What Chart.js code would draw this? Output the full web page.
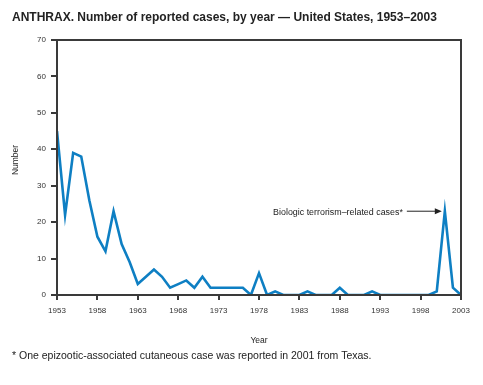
<!DOCTYPE html>
<html>
<head>
<meta charset="utf-8">
<script src="https://cdn.jsdelivr.net/npm/chart.js@4.4.1/dist/chart.umd.min.js"></script>
<style>
  html, body { margin: 0; padding: 0; background: #fff; }
  #wrap { width: 483px; height: 385px; position: relative; }
</style>
</head>
<body>
<div id="wrap"><canvas id="chart" width="483" height="385"></canvas></div>
<script>
// data
const years = [];
for (let y = 1953; y <= 2003; y++) years.push(y);
const cases = [45, 22, 39, 38, 26, 16, 12, 23, 14, 9,
               3, 5, 7, 5, 2, 3, 4, 2, 5, 2,
               2, 2, 2, 2, 0, 6, 0, 1, 0, 0,
               0, 1, 0, 0, 0, 2, 0, 0, 0, 1,
               0, 0, 0, 0, 0, 0, 0, 1, 23, 2,
               0];
const yTicks = [0, 10, 20, 30, 40, 50, 60, 70];
const xTicks = [1953, 1958, 1963, 1968, 1973, 1978, 1983, 1988, 1993, 1998, 2003];

const titleText = 'ANTHRAX. Number of reported cases, by year \u2014 United States, 1953\u20132003';
const noteText = '* One epizootic-associated cutaneous case was reported in 2001 from Texas.';
const annoText = 'Biologic terrorism\u2013related cases*';
const annoYear = 2001;

const FONT = '"Liberation Sans", Arial, Helvetica, sans-serif';
const AXIS = '#3a3a3a';

// texts, box and arrow
const extras = {
  id: 'extras',
  afterDatasetsDraw(chart) {
    const ctx = chart.ctx;
    const a = chart.chartArea;
    const xs = chart.scales.x, ys = chart.scales.y;
    ctx.save();
    // frame on top of the line
    ctx.strokeStyle = AXIS;
    ctx.lineWidth = 2;
    ctx.strokeRect(a.left, a.top, a.right - a.left, a.bottom - a.top);

    // annotation
    const px = xs.getPixelForValue(annoYear) - 3;
    const py = ys.getPixelForValue(cases[years.indexOf(annoYear)]);
    ctx.strokeStyle = '#222';
    ctx.fillStyle = '#222';
    ctx.lineWidth = 1;
    ctx.beginPath();
    ctx.moveTo(px - 35, py);
    ctx.lineTo(px - 6, py);
    ctx.stroke();
    ctx.beginPath();
    ctx.moveTo(px, py);
    ctx.lineTo(px - 7, py - 3);
    ctx.lineTo(px - 7, py + 3);
    ctx.closePath();
    ctx.fill();
    ctx.font = '8.9px ' + FONT;
    ctx.textAlign = 'right';
    ctx.textBaseline = 'middle';
    ctx.fillStyle = '#222';
    ctx.fillText(annoText, px - 39, py + 1);
    ctx.restore();
  },
  afterDraw(chart) {
    const ctx = chart.ctx;
    const a = chart.chartArea;
    ctx.save();
    ctx.fillStyle = '#222';
    ctx.textBaseline = 'alphabetic';
    ctx.textAlign = 'left';
    ctx.font = 'bold 12px ' + FONT;
    ctx.fillText(titleText, 12, 21);

    ctx.font = '10.5px ' + FONT;
    ctx.fillText(noteText, 12, 359);

    ctx.font = '8.5px ' + FONT;
    ctx.textAlign = 'center';
    ctx.fillText('Year', (a.left + a.right) / 2, 343);

    ctx.translate(18, 160);
    ctx.rotate(-Math.PI / 2);
    ctx.fillText('Number', 0, 0);
    ctx.restore();
  }
};

const ctx = document.getElementById('chart').getContext('2d');
new Chart(ctx, {
  type: 'line',
  data: {
    datasets: [{
      label: 'Cases',
      data: years.map((y, i) => ({ x: y, y: cases[i] })),
      borderColor: '#0e7fc3',
      borderWidth: 2.6,
      pointRadius: 0,
      tension: 0,
      fill: false
    }]
  },
  options: {
    responsive: false,
    animation: false,
    layout: { padding: { left: 0, top: 40, right: 22, bottom: 0 } },
    plugins: {
      legend: { display: false },
      tooltip: { enabled: false },
      title: { display: false }
    },
    scales: {
      x: {
        type: 'linear',
        min: 1953,
        max: 2003,
        afterFit: s => { s.height = 90; },
        afterBuildTicks: s => { s.ticks = xTicks.map(v => ({ value: v })); },
        grid: { display: true, drawOnChartArea: false, drawTicks: true, tickLength: 5, color: AXIS, lineWidth: 2 },
        border: { display: true, color: AXIS, width: 2 },
        ticks: {
          color: '#333',
          font: { family: FONT, size: 8 },
          padding: 6,
          maxRotation: 0,
          callback: v => String(v)
        }
      },
      y: {
        min: 0,
        max: 70,
        afterFit: s => { s.width = 57; },
        afterBuildTicks: s => { s.ticks = yTicks.map(v => ({ value: v })); },
        grid: { display: true, drawOnChartArea: false, drawTicks: true, tickLength: 6, color: AXIS, lineWidth: 2 },
        border: { display: true, color: AXIS, width: 2 },
        ticks: {
          color: '#333',
          font: { family: FONT, size: 8 },
          padding: 5
        }
      }
    }
  },
  plugins: [extras]
});
</script>
</body>
</html>
